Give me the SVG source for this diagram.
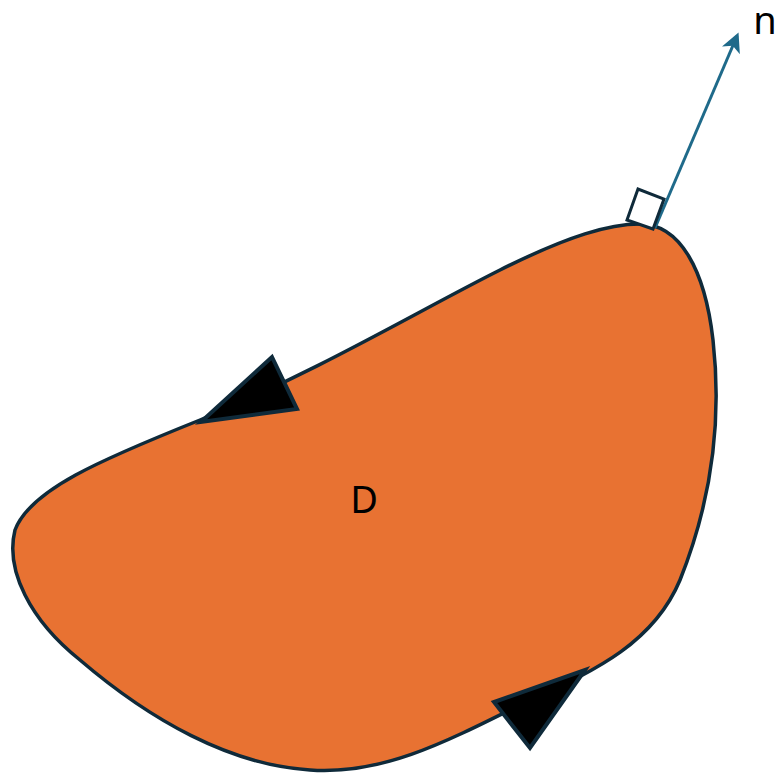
<svg xmlns="http://www.w3.org/2000/svg" width="784" height="776" viewBox="0 0 784 776">
<style>
.lbl{font-family:"Noto Sans","Open Sans","DejaVu Sans",sans-serif;font-size:38px;fill:#000}
.tri{fill:#000;stroke:#0f2a3a;stroke-width:4;stroke-linejoin:miter}
</style>
<defs>
<marker id="ah" viewBox="0 0 10 10" refX="8" refY="5" markerWidth="6.5" markerHeight="6.5" orient="auto" markerUnits="strokeWidth">
<path d="M0,0 L10,5 L0,10 L2.5,5 Z" fill="#1f6a8a"/>
</marker>
</defs>
<g id="region-D">
<path d="M 640 224 C 680 224, 705 270, 713 340 C 722 420, 712 500, 680 580 C 655 640, 600 670, 520 705 C 440 745, 380 775, 310 770 C 230 765, 150 720, 80 660 C 30 620, 5 570, 15 530 C 30 490, 100 460, 200 420 C 320 370, 420 310, 500 270 C 570 235, 610 224, 640 224 Z" fill="#e87232" stroke="#0f2a3a" stroke-width="3.5"/>
<text class="lbl" x="364" y="513" text-anchor="middle">D</text>
</g>
<g id="orientation-arrows">
<polygon class="tri" points="272,357 297,409 201,422"/>
<polygon class="tri" points="585,670 530,748 494,702"/>
</g>
<g id="connectors">
<line x1="655" y1="228" x2="737" y2="36" stroke="#1f6a8a" stroke-width="3" marker-end="url(#ah)"/>
<polygon points="627,220 638,189 664,199 653,229" fill="#fff" stroke="#0f2a3a" stroke-width="3"/>
</g>
<g id="normal-label">
<text class="lbl" x="765" y="34" text-anchor="middle">n</text>
</g>
</svg>
